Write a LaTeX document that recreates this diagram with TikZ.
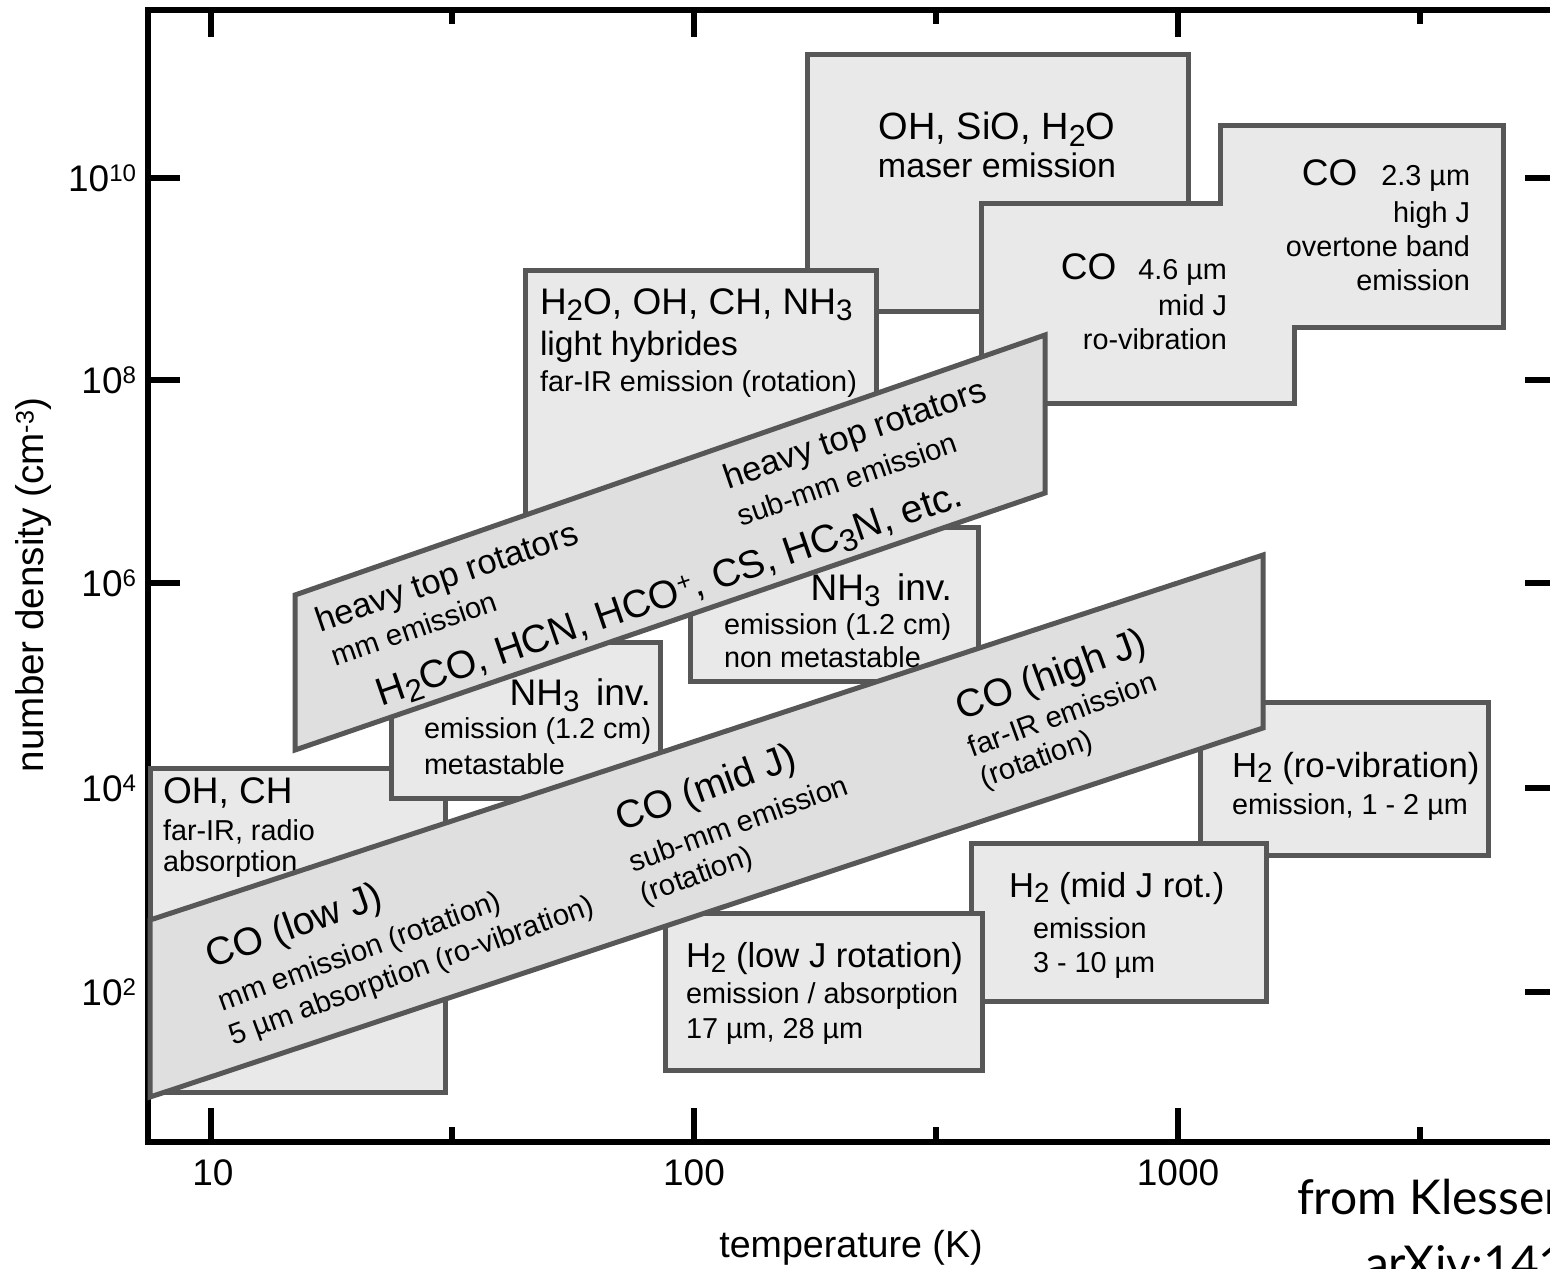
\documentclass[tikz,border=0pt]{standalone}
\usepackage{fontspec}
\usepackage{graphicx}
\setmainfont{Liberation Sans}
\newfontfamily\avfont{Lato}
\definecolor{boxfill}{HTML}{E9E9E9}
\definecolor{bandfill}{HTML}{DFDFDF}
\definecolor{boxline}{HTML}{575757}
\newcommand\sbs[1]{\raisebox{-0.17em}{\scalebox{0.8}{#1}}}
\newcommand\sps[1]{\raisebox{0.27em}{\scalebox{0.65}{#1}}}
\newcommand\fs[1]{\fontsize{#1}{#1}\selectfont}
\begin{document}
\begin{tikzpicture}[x=0.5pt,y=-0.5pt,
  bx/.style={fill=boxfill,draw=boxline,line width=2.5pt,line join=miter},
  bd/.style={fill=bandfill,draw=boxline,line width=2.5pt,line join=miter},
  axl/.style={line width=3pt,draw=black,line join=miter},
  tx/.style={inner sep=0pt,outer sep=0pt,text=black},
  t1/.style={tx,font=\fs{18.5}},
  t2/.style={tx,font=\fs{14.4}},
  tr/.style={tx,font=\fs{14.7}},
  tb/.style={tx,font=\fs{19.5}},
  tk/.style={tx,font=\fs{18.5}}]
\useasboundingbox (0,0) rectangle (1550,1268);
\clip (0,0) rectangle (1550,1268);
\fill[white] (0,0) rectangle (1550,1268);

% axes frame and ticks (boxes are drawn over them)
\draw[axl] (1560,10) -- (148,10) -- (148,1142) -- (1560,1142);
\foreach \xx in {211,694,1178} {
  \draw[axl] (\xx,10) -- (\xx,37);
  \draw[axl] (\xx,1142) -- (\xx,1108);
}
\foreach \xx in {452,936,1420} {
  \draw[axl] (\xx,10) -- (\xx,24);
  \draw[axl] (\xx,1142) -- (\xx,1127);
}
\foreach \yy in {178,380,583,788,992} {
  \draw[axl] (148,\yy) -- (180,\yy);
  \draw[axl] (1525,\yy) -- (1560,\yy);
}

% OH, CH
\filldraw[bx] (150,768) rectangle (445,1092);
\node[t1,anchor=base west] (ohch1) at (163,803) {OH, CH};
\node[t2,anchor=base west] (ohch2) at (163,840) {far-IR, radio};
\node[t2,anchor=base west] (ohch3) at (163,871) {absorption};

% NH3 metastable
\filldraw[bx] (391,642) rectangle (660,798);
\node[t1,anchor=base east] (nhm1) at (651,705) {NH\sbs{3}\hspace{0.45em}inv.};
\node[t2,anchor=base west] (nhm2) at (424,738) {emission (1.2 cm)};
\node[t2,anchor=base west] (nhm3) at (424,774) {metastable};

% NH3 non metastable
\filldraw[bx] (690,527) rectangle (978,681);
\node[t1,anchor=base east] (nhn1) at (952,600) {NH\sbs{3}\hspace{0.45em}inv.};
\node[t2,anchor=base west] (nhn2) at (724,634) {emission (1.2 cm)};
\node[t2,anchor=base west] (nhn3) at (724,667) {non metastable};

% maser
\filldraw[bx] (807,55) rectangle (1188,311);
\node[tx,font=\fs{19},anchor=base] (mas1) at (997,140) {OH, SiO, H\sbs{2}O};
\node[tx,font=\fs{17},anchor=base] (mas2) at (997,177) {maser emission};

% light hydrides
\filldraw[bx] (525,270) rectangle (876,540);
\node[tx,font=\fs{18.5},anchor=base west] (lh1) at (540,314) {H\sbs{2}O, OH, CH, NH\sbs{3}};
\node[tx,font=\fs{16.8},anchor=base west] (lh2) at (540,355) {light hybrides};
\node[t2,anchor=base west] (lh3) at (540,391) {far-IR emission (rotation)};

% CO 4.6 um and CO 2.3 um (joined outline)
\filldraw[bx] (981,203) -- (1216,203) -- (1220,203) -- (1220,125) -- (1503,125) -- (1503,327)
  -- (1294,327) -- (1294,403) -- (981,403) -- cycle;
\node[t2,anchor=base east] (co23a) at (1470,185) {{\fs{18.5}CO}\hspace{12pt}2.3 µm};
\node[t2,anchor=base east] (co23b) at (1470,222) {high J};
\node[t2,anchor=base east] (co23c) at (1470,256) {overtone band};
\node[t2,anchor=base east] (co23d) at (1470,290) {emission};
\node[t2,anchor=base east] (co46a) at (1227,279) {{\fs{18.5}CO}\hspace{11pt}4.6 µm};
\node[t2,anchor=base east] (co46b) at (1227,315) {mid J};
\node[t2,anchor=base east] (co46c) at (1227,349) {ro-vibration};

% heavy top rotators band
\filldraw[bd] (295,595) -- (1045,335) -- (1045,493) -- (295,750) -- cycle;
\node[tx,font=\fs{17.2},rotate=19] (hb1) at (448,579) {heavy top rotators};
\node[tr,rotate=19] (hb2) at (414,628) {mm emission};
\node[tb,rotate=19] (hb3) at (670,596) {H\sbs{2}CO, HCN, HCO\sps{+}, CS, HC\sbs{3}N, etc.};
\node[tx,font=\fs{17.2},rotate=19] (hb4) at (856,436) {heavy top rotators};
\node[tr,rotate=19] (hb5) at (847,479) {sub-mm emission};

% H2 ro-vibration
\filldraw[bx] (1200,702) rectangle (1488,855);
\node[tx,font=\fs{17.4},anchor=base west] (hrv1) at (1232,777) {H\sbs{2} (ro-vibration)};
\node[t2,anchor=base west] (hrv2) at (1232,814) {emission, 1 - 2 µm};

% H2 mid J
\filldraw[bx] (971,843) rectangle (1266,1001);
\node[tx,font=\fs{17.3},anchor=base west] (hmj1) at (1009,897) {H\sbs{2} (mid J rot.)};
\node[t2,anchor=base west] (hmj2) at (1033,938) {emission};
\node[t2,anchor=base west] (hmj3) at (1033,972) {3 - 10 µm};

% H2 low J
\filldraw[bx] (665,913) rectangle (982,1070);
\node[tx,font=\fs{17.3},anchor=base west] (hlj1) at (686,967) {H\sbs{2} (low J rotation)};
\node[t2,anchor=base west] (hlj2) at (686,1003) {emission / absorption};
\node[t2,anchor=base west] (hlj3) at (686,1038) {17 µm, 28 µm};

% CO band
\filldraw[bd] (150,920) -- (1263,555) -- (1263,728) -- (150,1097) -- cycle;
\node[tb,rotate=20] (cob1) at (295,928) {CO (low J)};
\node[tr,rotate=20] (cob2) at (360,953) {mm emission (rotation)};
\node[tr,rotate=20] (cob3) at (412,972) {5 µm absorption (ro-vibration)};
\node[tb,rotate=20] (com1) at (707,790) {CO (mid J)};
\node[tr,rotate=20] (com2) at (738,823) {sub-mm emission};
\node[tr,rotate=20] (com3) at (697,877) {(rotation)};
\node[tb,rotate=20] (coh1) at (1052,677) {CO (high J)};
\node[tr,rotate=20] (coh2) at (1062,714) {far-IR emission};
\node[tr,rotate=20] (coh3) at (1037,761) {(rotation)};

% tick labels
\node[tk,anchor=base east] (l10) at (136,191) {10\sps{10}};
\node[tk,anchor=base east] (l8) at (136,393) {10\sps{8}};
\node[tk,anchor=base east] (l6) at (136,596) {10\sps{6}};
\node[tk,anchor=base east] (l4) at (136,801) {10\sps{4}};
\node[tk,anchor=base east] (l2) at (136,1005) {10\sps{2}};
\node[tk,anchor=base] (b10) at (213,1185) {10};
\node[tk,anchor=base] (b100) at (694,1185) {100};
\node[tk,anchor=base] (b1000) at (1178,1185) {1000};
\node[tx,font=\fs{18.8},anchor=base] (xlab) at (851,1257) {temperature (K)};
\node[tx,font=\fs{19.3},rotate=90] (ylab) at (34,585) {number density (cm\sps{-3})};

% source
\node[tx,font=\avfont\fs{24},anchor=base west] (src1) at (1297,1214) {from Klessen};
\node[tx,font=\avfont\fs{24},anchor=base west] (src2) at (1365,1280) {arXiv:141};
\end{tikzpicture}
\end{document}
